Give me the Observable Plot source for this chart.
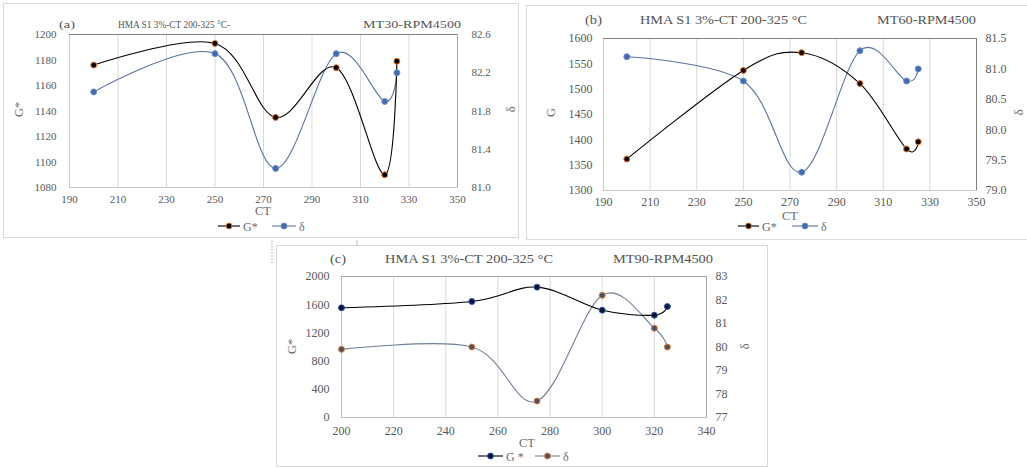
<!DOCTYPE html>
<html><head><meta charset="utf-8">
<script src="https://cdn.jsdelivr.net/npm/d3@7"></script>
<script src="https://cdn.jsdelivr.net/npm/@observablehq/plot@0.6"></script>
<style>
body{margin:0;background:#fff;}
#page{position:relative;width:1027px;height:468px;overflow:hidden;font-family:"Liberation Serif",serif;background:#fff;}
.box{position:absolute;border:1px solid #d9d9d9;box-sizing:border-box;}
.plot{position:absolute;}
#overlay{position:absolute;left:0;top:0;pointer-events:none;}
.lbl{position:absolute;white-space:nowrap;line-height:1;font-weight:400;}
</style></head>
<body><div id="page">
<div class="box" style="left:3px;top:3px;width:516px;height:235px"></div>
<div class="box" style="left:526px;top:5px;width:510px;height:235px"></div>
<div class="box" style="left:276px;top:245px;width:492px;height:222px"></div>
<div class="plot" id="pa" style="left:3px;top:28px"></div>
<div class="plot" id="pb" style="left:526px;top:30px"></div>
<div class="plot" id="pc" style="left:276px;top:268px"></div>
<svg id="overlay" width="1027" height="468"></svg>
</div>
<script>
// ---- data ----
const ct = [200, 250, 275, 300, 320, 325];
const gStarA = [1176, 1193, 1135, 1174, 1090, 1179];
const deltaA = [82.0, 82.4, 81.2, 82.4, 81.9, 82.2];
const gStarB = [1362, 1537, 1572, 1511, 1382, 1396];
const deltaB = [81.2, 80.8, 79.3, 81.3, 80.8, 81.0];
const gStarC = [1556, 1645, 1849, 1522, 1451, 1574];
const deltaC = [79.9, 80.0, 77.7, 82.2, 80.8, 80.0];

const xTicksAB = [190, 210, 230, 250, 270, 290, 310, 330, 350];
const xTicksC = [200, 220, 240, 260, 280, 300, 320, 340];
const gTicksA = [1080, 1100, 1120, 1140, 1160, 1180, 1200];
const dTicksA = [81.0, 81.4, 81.8, 82.2, 82.6];
const gTicksB = [1300, 1350, 1400, 1450, 1500, 1550, 1600];
const dTicksB = [79.0, 79.5, 80.0, 80.5, 81.0, 81.5];
const gTicksC = [0, 400, 800, 1200, 1600, 2000];
const dTicksC = [77, 78, 79, 80, 81, 82, 83];

function panel(cfg) {
  const yDom = [cfg.gTicks[0], cfg.gTicks[cfg.gTicks.length - 1]];
  const dDom = [cfg.dTicks[0], cfg.dTicks[cfg.dTicks.length - 1]];
  const xDom = [cfg.xTicks[0], cfg.xTicks[cfg.xTicks.length - 1]];
  const toY = v => yDom[0] + (v - dDom[0]) / (dDom[1] - dDom[0]) * (yDom[1] - yDom[0]);
  const fromY = v => dDom[0] + (v - yDom[0]) / (yDom[1] - yDom[0]) * (dDom[1] - dDom[0]);
  const rows = ct.map((x, i) => ({x, g: cfg.g[i], d: toY(cfg.d[i])}));
  return Plot.plot({
    width: cfg.width, height: cfg.height,
    marginLeft: cfg.mL, marginRight: cfg.mR, marginTop: cfg.mT, marginBottom: cfg.mB,
    style: {fontFamily: "Liberation Serif, serif", fontSize: cfg.fs + "px", color: "#595959", background: "transparent", overflow: "visible"},
    x: {domain: xDom},
    y: {domain: yDom},
    marks: [
      Plot.ruleX(cfg.xTicks.slice(1, -1), {stroke: "#d9d9d9", strokeWidth: 1}),
      Plot.frame({stroke: cfg.frame, strokeWidth: 1}),
      Plot.ruleY([yDom[1]], {stroke: cfg.topRule, strokeWidth: 1}),
      Plot.ruleX([xDom[1]], {stroke: cfg.rightRule, strokeWidth: 1}),
      Plot.line(rows, {x: "x", y: "d", stroke: cfg.dLine, strokeWidth: 1.1, curve: "cardinal", tension: 0}),
      Plot.line(rows, {x: "x", y: "g", stroke: cfg.gLine, strokeWidth: 1.1, curve: "cardinal", tension: 0}),
      Plot.dot(rows, {x: "x", y: "d", r: 3, fill: cfg.dFill, stroke: cfg.dStroke, strokeWidth: 1}),
      Plot.dot(rows, {x: "x", y: "g", r: 3, fill: cfg.gFill, stroke: cfg.gStroke, strokeWidth: 1}),
      Plot.axisX(cfg.xTicks, {tickSize: 0, tickPadding: cfg.padB, label: null, fill: "#595959", tickFormat: v => String(v)}),
      Plot.axisY(cfg.gTicks, {anchor: "left", tickSize: 0, tickPadding: cfg.padL, label: null, fill: "#595959", tickFormat: v => String(v)}),
      Plot.axisY(cfg.dTicks.map(toY), {anchor: "right", tickSize: 0, tickPadding: cfg.padR, label: null, fill: "#595959",
        tickFormat: v => fromY(v).toFixed(cfg.dec)})
    ]
  });
}

const styleAB = {gLine: "#000000", gFill: "#000000", gStroke: "#ED7D31", dLine: "#5a74a0", dFill: "#466aa8", dStroke: "#6f8fcf"};
const styleC = {gLine: "#000000", gFill: "#0b1530", gStroke: "#2e5cb8", dLine: "#6e7f99", dFill: "#44546a", dStroke: "#ED7D31"};

document.getElementById("pa").append(panel({
  ...styleAB, g: gStarA, d: deltaA, xTicks: xTicksAB, gTicks: gTicksA, dTicks: dTicksA, dec: 1,
  width: 516, height: 182, mL: 66, mR: 62, mT: 6, mB: 23, padL: 13, padR: 14, padB: 8, fs: 11,
  frame: "#c8c8c8", topRule: "#808080", rightRule: "#a6a6a6"
}));
document.getElementById("pb").append(panel({
  ...styleAB, g: gStarB, d: deltaB, xTicks: xTicksAB, gTicks: gTicksB, dTicks: dTicksB, dec: 1,
  width: 501, height: 182, mL: 77, mR: 51, mT: 8, mB: 22, padL: 11, padR: 9, padB: 7, fs: 12,
  frame: "#c8c8c8", topRule: "#808080", rightRule: "#808080"
}));
document.getElementById("pc").append(panel({
  ...styleC, g: gStarC, d: deltaC, xTicks: xTicksC, gTicks: gTicksC, dTicks: dTicksC, dec: 0,
  width: 492, height: 170, mL: 65, mR: 62, mT: 8, mB: 21, padL: 12, padR: 9, padB: 9, fs: 12,
  frame: "#bfbfbf", topRule: "#a6a6a6", rightRule: "#a6a6a6"
}));

// ---- titles, axis titles, legends ----
const titles = [
  {t: "(a)", x: 59, cy: 25, len: 16, fs: 11},
  {t: "HMA S1 3%-CT 200-325 °C-", x: 118, cy: 25, len: 112, fs: 11},
  {t: "MT30-RPM4500", x: 363, cy: 25, len: 98, fs: 11},
  {t: "(b)", x: 585, cy: 20, len: 17, fs: 12},
  {t: "HMA S1 3%-CT 200-325 °C", x: 640, cy: 20, len: 167, fs: 12},
  {t: "MT60-RPM4500", x: 877, cy: 20, len: 99, fs: 12},
  {t: "(c)", x: 330, cy: 259, len: 16, fs: 12.5},
  {t: "HMA S1 3%-CT 200-325 °C", x: 385, cy: 259, len: 168, fs: 12.5},
  {t: "MT90-RPM4500", x: 613, cy: 259, len: 100, fs: 12.5}
];
const axisTitles = [
  {t: "G*", x: 19, y: 110, rot: true}, {t: "δ", x: 511, y: 110, rot: true}, {t: "CT", x: 263, y: 212},
  {t: "G", x: 551, y: 113, rot: true}, {t: "δ", x: 1019, y: 113, rot: true}, {t: "CT", x: 790, y: 217},
  {t: "G*", x: 292, y: 347, rot: true}, {t: "δ", x: 745, y: 347, rot: true}, {t: "CT", x: 527, y: 444}
];
const legends = [
  {y: 226, items: [{x0: 218, x1: 240, t: "G*", s: styleAB, k: "g"}, {x0: 272, x1: 296, t: "δ", s: styleAB, k: "d"}]},
  {y: 226, items: [{x0: 738, x1: 759, t: "G*", s: styleAB, k: "g"}, {x0: 792, x1: 818, t: "δ", s: styleAB, k: "d"}]},
  {y: 456, items: [{x0: 478, x1: 503, t: "G *", s: styleC, k: "g"}, {x0: 535, x1: 560, t: "δ", s: styleC, k: "d"}]}
];
const page = document.getElementById("page");
function addLabel(text, fs, color) {
  const s = document.createElement("div");
  s.className = "lbl";
  s.textContent = text;
  s.style.fontSize = fs + "px";
  s.style.color = color;
  page.append(s);
  return s;
}
for (const d of titles) {
  const s = addLabel(d.t, d.fs, "#555555");
  const w = s.getBoundingClientRect().width;
  s.style.left = d.x + "px";
  s.style.top = (d.cy - 0.51 * d.fs) + "px";
  s.style.transformOrigin = "0 50%";
  s.style.transform = `scaleX(${d.len / w})`;
}
for (const d of axisTitles) {
  const s = addLabel(d.t, 12.5, "#6b6b6b");
  s.style.left = d.x + "px";
  s.style.top = d.y + "px";
  s.style.transform = `translate(-50%, -55%)` + (d.rot ? " rotate(-90deg)" : "");
}
let svg = "";
svg += `<line x1="272" y1="240" x2="272" y2="263" stroke="#bfbfbf" stroke-dasharray="2,1"/>`;
svg += `<line x1="357" y1="240" x2="357" y2="246" stroke="#bfbfbf"/>`;
for (const L of legends) {
  for (const it of L.items) {
    const line = it.k === "g" ? it.s.gLine : it.s.dLine;
    const fill = it.k === "g" ? it.s.gFill : it.s.dFill;
    const stroke = it.k === "g" ? it.s.gStroke : it.s.dStroke;
    const cx = (it.x0 + it.x1) / 2;
    svg += `<line x1="${it.x0}" y1="${L.y}" x2="${it.x1}" y2="${L.y}" stroke="${line}" stroke-width="1.1"/>`;
    svg += `<circle cx="${cx}" cy="${L.y}" r="3" fill="${fill}" stroke="${stroke}"/>`;
    const s = addLabel(it.t, 12, "#6b6b6b");
    s.style.left = (it.x1 + 3) + "px";
    s.style.top = (L.y - 0.45 * 12) + "px";
  }
}
document.getElementById("overlay").innerHTML = svg;
</script>
</body></html>
